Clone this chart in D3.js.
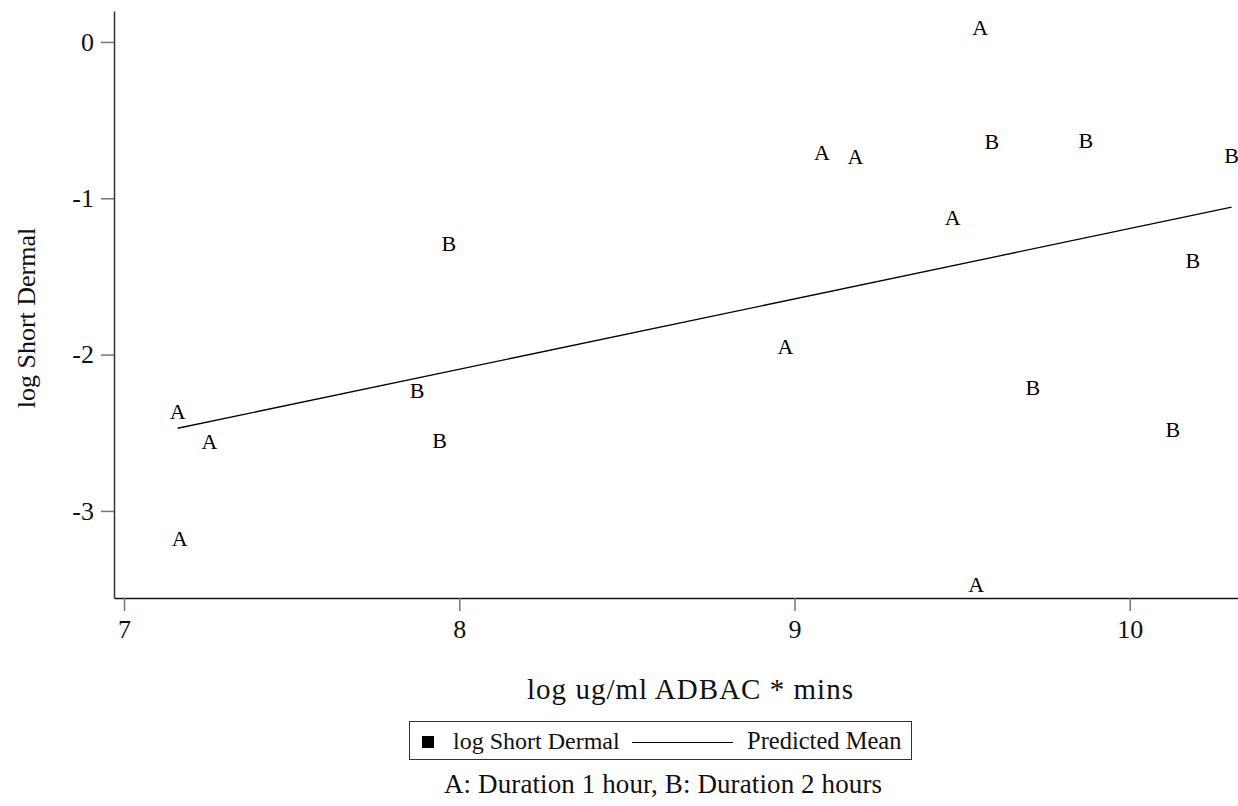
<!DOCTYPE html>
<html>
<head>
<meta charset="utf-8">
<script src="https://cdn.jsdelivr.net/npm/d3@7"></script>
<style>
  html, body { margin: 0; padding: 0; background: #fff; }
  svg { display: block; font-family: "Liberation Serif", "Times New Roman", serif; }
</style>
</head>
<body>
<svg id="chart" width="1238" height="806"></svg>
<script>
// Exposure (log ug/ml ADBAC * mins) and response (log Short Dermal), with duration group
const exposure = [7.160, 7.255, 7.166, 7.874, 7.941, 7.969, 8.973, 9.082, 9.182,
                  9.472, 9.554, 9.589, 9.869, 10.304, 10.188, 9.711, 10.129, 9.542];
const response = [-2.367, -2.556, -3.179, -2.229, -2.549, -1.292, -1.951, -0.710, -0.732,
                  -1.126, 0.093, -0.638, -0.633, -0.726, -1.398, -2.210, -2.476, -3.471];
const group    = ["A", "A", "A", "B", "B", "B", "A", "A", "A",
                  "A", "A", "B", "B", "B", "B", "B", "B", "A"];

// Predicted mean line: intercept and slope on the log scale
const fitIntercept = -5.691;
const fitSlope = 0.4497;

const xTicks = [7, 8, 9, 10];
const yTicks = [0, -1, -2, -3];

const svg = d3.select("#chart");

const x = d3.scaleLinear().domain([6.97, 10.323]).range([114, 1238]);
const y = d3.scaleLinear().domain([-3.557, 0.198]).range([598, 11]);

// Plain hyphen-minus tick labels
const fmt = d => String(d);

// Axes
const xAxis = d3.axisBottom(x).tickValues(xTicks).tickFormat(fmt)
  .tickSize(13).tickPadding(9).tickSizeOuter(0);
const gx = svg.append("g").attr("transform", `translate(0,${y.range()[0]})`).call(xAxis);
gx.select(".domain").attr("stroke", "#111").attr("stroke-width", 1.5);
gx.selectAll(".tick line").attr("stroke", "#777").attr("stroke-width", 1.5);
gx.selectAll(".tick text").attr("font-size", 26).attr("fill", "#111")
  .attr("font-family", "Liberation Serif, serif");

const yAxis = d3.axisLeft(y).tickValues(yTicks).tickFormat(fmt)
  .tickSize(13).tickPadding(7).tickSizeOuter(0);
const gy = svg.append("g").attr("transform", `translate(${x.range()[0]},0)`).call(yAxis);
gy.select(".domain").attr("stroke", "#333").attr("stroke-width", 1.5);
gy.selectAll(".tick line").attr("stroke", "#777").attr("stroke-width", 1.5);
gy.selectAll(".tick text").attr("font-size", 26).attr("fill", "#111")
  .attr("font-family", "Liberation Serif, serif");

// Axis titles
svg.append("text")
  .attr("x", 690).attr("y", 699)
  .attr("text-anchor", "middle").attr("font-size", 29).attr("fill", "#111")
  .attr("textLength", 326).attr("lengthAdjust", "spacing")
  .text("log ug/ml ADBAC * mins");

svg.append("text")
  .attr("transform", "translate(35,318) rotate(-90)")
  .attr("text-anchor", "middle").attr("font-size", 26).attr("fill", "#111")
  .text("log Short Dermal");

// Predicted mean line across the observed exposure range
const [xMin, xMax] = d3.extent(exposure);
const fitLine = [xMin, xMax].map(v => [v, fitIntercept + fitSlope * v]);
svg.append("path")
  .datum(fitLine)
  .attr("fill", "none").attr("stroke", "#000").attr("stroke-width", 1.3)
  .attr("d", d3.line().x(d => x(d[0])).y(d => y(d[1])));

// Observations drawn as duration letters centred on each point
svg.append("g").selectAll("text")
  .data(exposure.map((v, i) => ({ x: v, y: response[i], g: group[i] })))
  .join("text")
  .attr("x", d => x(d.x)).attr("y", d => y(d.y))
  .attr("text-anchor", "middle").attr("dominant-baseline", "central")
  .attr("font-size", 22).attr("fill", "#000")
  .text(d => d.g);

// Legend
const lg = svg.append("g");
lg.append("rect").attr("x", 409.5).attr("y", 721.5).attr("width", 502).attr("height", 38)
  .attr("fill", "#fff").attr("stroke", "#333").attr("stroke-width", 1);
lg.append("rect").attr("x", 422).attr("y", 736).attr("width", 12).attr("height", 12).attr("fill", "#000");
lg.append("text").attr("x", 453).attr("y", 749).attr("font-size", 24).attr("fill", "#111")
  .text("log Short Dermal");
lg.append("line").attr("x1", 632).attr("x2", 733).attr("y1", 742.5).attr("y2", 742.5)
  .attr("stroke", "#000").attr("stroke-width", 1);
lg.append("text").attr("x", 747).attr("y", 749).attr("font-size", 24.5).attr("fill", "#111")
  .text("Predicted Mean");

svg.append("text")
  .attr("x", 663).attr("y", 793)
  .attr("text-anchor", "middle").attr("font-size", 27).attr("fill", "#111")
  .attr("textLength", 438).attr("lengthAdjust", "spacing")
  .text("A: Duration 1 hour, B: Duration 2 hours");
</script>
</body>
</html>
